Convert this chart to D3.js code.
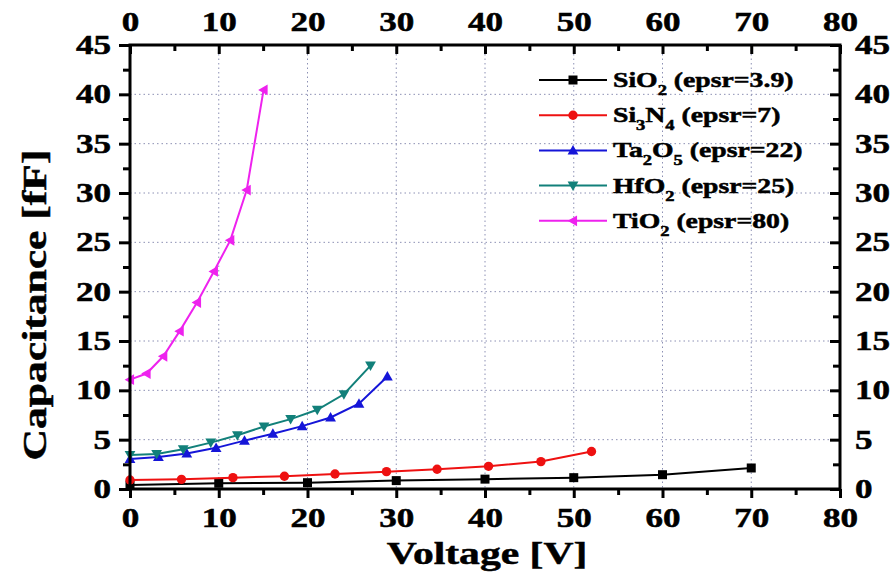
<!DOCTYPE html>
<html>
<head>
<meta charset="utf-8">
<script src="https://cdn.jsdelivr.net/npm/d3@7"></script>
<style>
  body { margin: 0; background: #fff; }
  svg text { font-family: "Liberation Serif", "Times New Roman", serif; font-weight: bold; stroke: #000; stroke-width: 0.5px; }
</style>
</head>
<body>
<svg width="896" height="577"></svg>
<script>
// values
let sio2V = [0, 10, 20, 30, 40, 50, 60, 70];
let sio2C = [0.4, 0.58, 0.64, 0.85, 1.0, 1.15, 1.45, 2.13];

let si3n4V = [0, 5.8, 11.6, 17.4, 23.1, 28.9, 34.6, 40.4, 46.3, 52.0];
let si3n4C = [0.91, 0.98, 1.15, 1.29, 1.52, 1.76, 2.0, 2.3, 2.78, 3.8];

let ta2o5V = [0, 3.2, 6.4, 9.7, 12.9, 16.1, 19.4, 22.6, 25.8, 29.0];
let ta2o5C = [3.05, 3.25, 3.6, 4.17, 4.9, 5.6, 6.37, 7.25, 8.64, 11.4];

let hfo2V = [0, 3.0, 6.0, 9.1, 12.1, 15.1, 18.1, 21.1, 24.1, 27.1];
let hfo2C = [3.45, 3.55, 4.03, 4.7, 5.45, 6.33, 7.08, 8.03, 9.6, 12.5];

let tio2V = [0, 1.87, 3.75, 5.6, 7.55, 9.45, 11.3, 13.15, 15.05];
let tio2C = [11.08, 11.7, 13.45, 16.0, 18.9, 22.05, 25.2, 30.3, 40.45];

let xTicks = [0, 10, 20, 30, 40, 50, 60, 70, 80];
let yTicks = [0, 5, 10, 15, 20, 25, 30, 35, 40, 45];

let series = [
  { name: "SiO", sub1: "2", rest: "", eps: " (epsr=3.9)", v: sio2V, c: sio2C, color: "#000000", shape: "square" },
  { name: "Si", sub1: "3", rest: "N", sub2: "4", eps: " (epsr=7)", v: si3n4V, c: si3n4C, color: "#ee1111", shape: "circle" },
  { name: "Ta", sub1: "2", rest: "O", sub2: "5", eps: " (epsr=22)", v: ta2o5V, c: ta2o5C, color: "#1515d8", shape: "up" },
  { name: "HfO", sub1: "2", rest: "", eps: " (epsr=25)", v: hfo2V, c: hfo2C, color: "#12807a", shape: "down" },
  { name: "TiO", sub1: "2", rest: "", eps: " (epsr=80)", v: tio2V, c: tio2C, color: "#ee22ee", shape: "left" }
];

let svg = d3.select("svg");
let pLeft = 130, pRight = 840, pTop = 45, pBottom = 489;

let x = d3.scaleLinear().domain([0, 80]).range([pLeft, pRight]);
let y = d3.scaleLinear().domain([0, 45]).range([pBottom, pTop]);

// the source fonts are a wide bold Times, so stretch text sideways
function widen(sel, k) {
  sel.each(function() {
    let w = this.getComputedTextLength();
    d3.select(this).attr("textLength", w * k).attr("lengthAdjust", "spacingAndGlyphs");
  });
}

// dotted grid
let grid = svg.append("g");
grid.selectAll(".gx").data(xTicks.slice(1, -1)).enter().append("line")
  .attr("x1", d => x(d)).attr("x2", d => x(d))
  .attr("y1", pTop).attr("y2", pBottom)
  .attr("stroke", "#8c90b4").attr("stroke-width", 1).attr("stroke-dasharray", "1.5,3");
grid.selectAll(".gy").data(yTicks.slice(1, -1)).enter().append("line")
  .attr("x1", pLeft).attr("x2", pRight)
  .attr("y1", d => y(d)).attr("y2", d => y(d))
  .attr("stroke", "#8c90b4").attr("stroke-width", 1).attr("stroke-dasharray", "1.5,3");

function markerPath(shape, s) {
  if (shape === "square") return d3.symbol(d3.symbolSquare, s * s)();
  if (shape === "circle") return d3.symbol(d3.symbolCircle, s * s * 0.85)();
  let h = s * 0.6;
  if (shape === "up") return `M0,${-h}L${h},${h * 0.75}L${-h},${h * 0.75}Z`;
  if (shape === "down") return `M0,${h}L${h},${-h * 0.75}L${-h},${-h * 0.75}Z`;
  return `M${-h},0L${h * 0.75},${-h}L${h * 0.75},${h}Z`;
}

let line = d3.line().x(d => x(d[0])).y(d => y(d[1]));

series.forEach(function(s) {
  let pts = s.v.map((v, i) => [v, s.c[i]]);
  svg.append("path")
    .datum(pts)
    .attr("d", line)
    .attr("fill", "none")
    .attr("stroke", s.color)
    .attr("stroke-width", 2);
  svg.selectAll(null).data(pts).enter().append("path")
    .attr("d", markerPath(s.shape, 9))
    .attr("transform", d => `translate(${x(d[0])},${y(d[1])})`)
    .attr("fill", s.color);
});

// axes
function styleAxis(g, fs) {
  g.select(".domain").remove();
  g.selectAll("line").attr("stroke", "#000").attr("stroke-width", 3);
  g.selectAll("text").attr("font-size", fs).attr("fill", "#000").call(widen, 1.3);
}

let fs = 27;
svg.append("g").attr("transform", `translate(0,${pBottom})`)
  .call(d3.axisBottom(x).tickValues(xTicks).tickFormat(d3.format("d")).tickSize(9).tickPadding(10))
  .call(g => styleAxis(g, fs));
svg.append("g").attr("transform", `translate(0,${pBottom})`)
  .call(d3.axisBottom(x).tickValues(d3.range(5, 80, 10)).tickFormat("").tickSize(6))
  .call(g => styleAxis(g, fs));

svg.append("g").attr("transform", `translate(0,${pTop})`)
  .call(d3.axisTop(x).tickValues(xTicks).tickFormat(d3.format("d")).tickSize(-9).tickPadding(14))
  .call(g => styleAxis(g, fs));
svg.append("g").attr("transform", `translate(0,${pTop})`)
  .call(d3.axisTop(x).tickValues(d3.range(5, 80, 10)).tickFormat("").tickSize(-6))
  .call(g => styleAxis(g, fs));

svg.append("g").attr("transform", `translate(${pLeft},0)`)
  .call(d3.axisLeft(y).tickValues(yTicks).tickFormat(d3.format("d")).tickSize(11).tickPadding(8))
  .call(g => styleAxis(g, fs));
svg.append("g").attr("transform", `translate(${pLeft},0)`)
  .call(d3.axisLeft(y).tickValues(d3.range(2.5, 45, 5)).tickFormat("").tickSize(7))
  .call(g => styleAxis(g, fs));

svg.append("g").attr("transform", `translate(${pRight},0)`)
  .call(d3.axisRight(y).tickValues(yTicks).tickFormat(d3.format("d")).tickSize(-10).tickPadding(15))
  .call(g => styleAxis(g, fs));
svg.append("g").attr("transform", `translate(${pRight},0)`)
  .call(d3.axisRight(y).tickValues(d3.range(2.5, 45, 5)).tickFormat("").tickSize(-7))
  .call(g => styleAxis(g, fs));

// frame
svg.append("rect")
  .attr("x", pLeft).attr("y", pTop)
  .attr("width", pRight - pLeft).attr("height", pBottom - pTop)
  .attr("fill", "none").attr("stroke", "#000").attr("stroke-width", 3);

// axis titles
svg.append("text")
  .attr("x", 487).attr("y", 564)
  .attr("text-anchor", "middle").attr("font-size", 32)
  .text("Voltage [V]")
  .call(widen, 1.3);
svg.append("text")
  .attr("transform", `translate(46,305) rotate(-90)`)
  .attr("text-anchor", "middle").attr("font-size", 33)
  .text("Capacitance [fF]")
  .call(widen, 1.32);

// legend
let leg = svg.append("g").attr("transform", "translate(539,80)");
series.forEach(function(s, i) {
  let g = leg.append("g").attr("transform", `translate(0,${i * 35.2})`);
  g.append("line").attr("x1", 0).attr("x2", 68).attr("y1", 0).attr("y2", 0)
    .attr("stroke", s.color).attr("stroke-width", 2);
  g.append("path").attr("d", markerPath(s.shape, 9))
    .attr("transform", "translate(34,0)").attr("fill", s.color);
  let t = g.append("text").attr("transform", "translate(74,7) scale(1.32,1)")
    .attr("font-size", 21);
  t.append("tspan").text(s.name);
  t.append("tspan").attr("font-size", 14).attr("dy", 8).text(s.sub1);
  if (s.rest) {
    t.append("tspan").attr("dy", -8).text(s.rest);
    t.append("tspan").attr("font-size", 14).attr("dy", 8).text(s.sub2);
  }
  t.append("tspan").attr("dy", -8).text(s.eps);
});
</script>
</body>
</html>
